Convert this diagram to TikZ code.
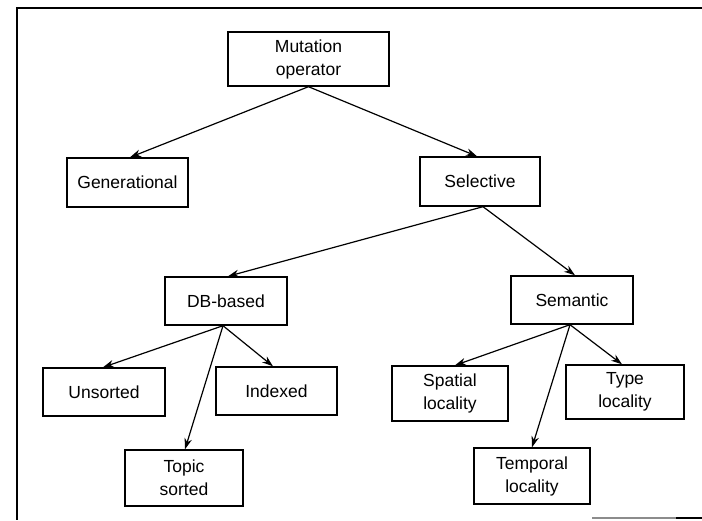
\documentclass[tikz,border=0pt]{standalone}
\usepackage{fontspec}
\setmainfont{Liberation Sans}
\usetikzlibrary{arrows.meta}
\tikzset{
  box/.style={draw, line width=1.4pt, inner sep=0pt, align=center,
    font=\fontsize{17.5}{23}\selectfont},
  link/.style={line width=1.2pt, -{Stealth[length=11pt,width=7.5pt]}},
  frame/.style={line width=1.3pt}
}
\begin{document}
\begin{tikzpicture}[x=1pt,y=-1pt]
\useasboundingbox (0,0) rectangle (702,520);
% frame
\coordinate (f1) at (17,8);
\coordinate (f2) at (702,8);
\coordinate (f3) at (17,520);
\draw[frame] (f2) -- (f1) -- (f3);
\coordinate (g1) at (592,518);
\coordinate (g2) at (676,518);
\coordinate (g3) at (702,518);
\draw[line width=1.2pt, black!45] (g1) -- (g2);
\draw[line width=2pt] (g2) -- (g3);
% nodes
\node[box, minimum width=161pt, minimum height=54pt] (mut) at (308.5,59) {Mutation\\operator};
\node[box, minimum width=121pt, minimum height=49pt] (gen) at (127.5,182.5) {Generational};
\node[box, minimum width=120pt, minimum height=49pt] (sel) at (480,181.5) {Selective};
\node[box, minimum width=122pt, minimum height=48pt] (db) at (226,301) {DB-based};
\node[box, minimum width=122pt, minimum height=48pt] (sem) at (572,300) {Semantic};
\node[box, minimum width=122pt, minimum height=48pt] (uns) at (104,392) {Unsorted};
\node[box, minimum width=121pt, minimum height=48pt] (idx) at (276.5,391) {Indexed};
\node[box, minimum width=118pt, minimum height=56pt] (top) at (184,478) {Topic\\sorted};
\node[box, minimum width=116pt, minimum height=55pt] (spa) at (450,393.5) {Spatial\\locality};
\node[box, minimum width=118pt, minimum height=54pt] (typ) at (625,392) {Type\\locality};
\node[box, minimum width=116pt, minimum height=56pt] (tem) at (532,476) {Temporal\\locality};
% connectors
\draw[link] (mut.south) -- ([xshift=2.5pt]gen.north);
\draw[link] (mut.south) -- ([xshift=-3pt]sel.north);
\draw[link] ([xshift=3pt]sel.south) -- ([xshift=2pt]db.north);
\draw[link] ([xshift=3pt]sel.south) -- ([xshift=3pt]sem.north);
\draw[link] ([xshift=-3pt]db.south) -- ([xshift=-1pt]uns.north);
\draw[link] ([xshift=-3pt]db.south) -- ([xshift=1pt]top.north);
\draw[link] ([xshift=-3pt]db.south) -- ([xshift=-3.5pt]idx.north);
\draw[link] ([xshift=-2pt]sem.south) -- ([xshift=5pt]spa.north);
\draw[link] ([xshift=-2pt]sem.south) -- (tem.north);
\draw[link] ([xshift=-2pt]sem.south) -- ([xshift=-3pt]typ.north);
\end{tikzpicture}
\end{document}
